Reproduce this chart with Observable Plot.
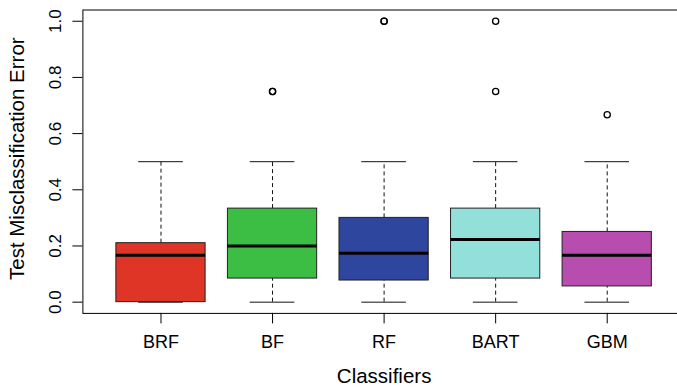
<!DOCTYPE html>
<html>
<head>
<meta charset="utf-8">
<script src="https://cdn.jsdelivr.net/npm/d3@7"></script>
<script src="https://cdn.jsdelivr.net/npm/@observablehq/plot@0.6"></script>
<style>
  html, body { margin: 0; padding: 0; background: white; }
  #chart svg { display: block; }
</style>
</head>
<body>
<div id="chart"></div>
<script>
const categories = ["BRF", "BF", "RF", "BART", "GBM"];
const lowerWhisker = [0, 0, 0, 0, 0];
const q1 = [0, 0.084, 0.077, 0.084, 0.056];
const median = [0.167, 0.2, 0.174, 0.223, 0.167];
const q3 = [0.21, 0.333, 0.3, 0.333, 0.25];
const upperWhisker = [0.5, 0.5, 0.5, 0.5, 0.5];
const outliers = [[], [0.75, 0.75], [1.0, 1.0], [1.0, 0.75], [0.667]];
const fills = ["#DE3526", "#3CBD44", "#2E469E", "#93E0DA", "#B74DAE"];
const yTicks = [0, 0.2, 0.4, 0.6, 0.8, 1.0];
const xTitle = "Classifiers";
const yTitle = "Test Misclassification Error";

const boxes = categories.map((name, i) => ({
  pos: i + 1, name,
  lo: lowerWhisker[i], q1: q1[i], med: median[i], q3: q3[i], hi: upperWhisker[i],
  fill: fills[i]
}));
const outlierRows = outliers.flatMap((vals, i) => vals.map(v => ({pos: i + 1, value: v})));

const W = 677, H = 387;
const mL = 82.4, mR = -7.8, mT = 9.5, mB = 74.1;
const font = "'Liberation Sans', Arial, Helvetica, sans-serif";

const chart = Plot.plot({
  width: W,
  height: H,
  marginLeft: mL,
  marginRight: mR,
  marginTop: mT,
  marginBottom: mB,
  style: {fontFamily: font, background: "white", color: "black", overflow: "hidden"},
  x: {type: "linear", domain: [0.3, 5.7], range: [mL, W - mR], label: null},
  y: {type: "linear", domain: [-0.04, 1.04], range: [H - mB, mT], label: null},
  color: {type: "identity"},
  marks: [
    // whiskers
    Plot.ruleX(boxes, {x: "pos", y1: "q3", y2: "hi", stroke: "#111", strokeWidth: 1, strokeDasharray: "4,3"}),
    Plot.ruleX(boxes, {x: "pos", y1: "lo", y2: "q1", stroke: "#111", strokeWidth: 1, strokeDasharray: "4,3"}),
    // caps
    Plot.ruleY(boxes, {y: "hi", x1: d => d.pos - 0.2, x2: d => d.pos + 0.2, stroke: "#111", strokeWidth: 1}),
    Plot.ruleY(boxes, {y: "lo", x1: d => d.pos - 0.2, x2: d => d.pos + 0.2, stroke: "#111", strokeWidth: 1}),
    // boxes
    Plot.rect(boxes, {x1: d => d.pos - 0.4, x2: d => d.pos + 0.4, y1: "q1", y2: "q3", fill: "fill", stroke: "#222", strokeWidth: 1}),
    // medians
    Plot.ruleY(boxes, {y: "med", x1: d => d.pos - 0.4, x2: d => d.pos + 0.4, stroke: "black", strokeWidth: 3}),
    // outliers
    Plot.dot(outlierRows, {x: "pos", y: "value", r: 3.1, stroke: "black", strokeWidth: 1.3, fill: "none"}),
    // frame
    Plot.frame({stroke: "black", strokeWidth: 1}),
    // x axis
    Plot.axisX({ticks: [1, 2, 3, 4, 5], tickFormat: i => categories[i - 1], tickSize: 10.5, tickPadding: 11, fontSize: 18, label: null, stroke: "black"}),
    // y axis ticks
    Plot.axisY({ticks: yTicks, tickSize: 10, tickFormat: () => "", label: null, stroke: "black"}),
    // y tick labels rotated
    Plot.text(yTicks, {y: d => d, text: d => d.toFixed(1), frameAnchor: "left", dx: -22.4, rotate: -90, lineAnchor: "bottom", textAnchor: "middle", fontSize: 17, fill: "black"}),
    // axis titles
    Plot.text([yTitle], {text: d => d, frameAnchor: "left", dx: -58.9, dy: -3, rotate: -90, lineAnchor: "bottom", textAnchor: "middle", fontSize: 20.5, fill: "black"}),
    Plot.text([xTitle], {text: d => d, frameAnchor: "bottom", dy: 70, lineAnchor: "bottom", textAnchor: "middle", fontSize: 20.5, fill: "black"})
  ]
});
document.getElementById("chart").appendChild(chart);
</script>
</body>
</html>
